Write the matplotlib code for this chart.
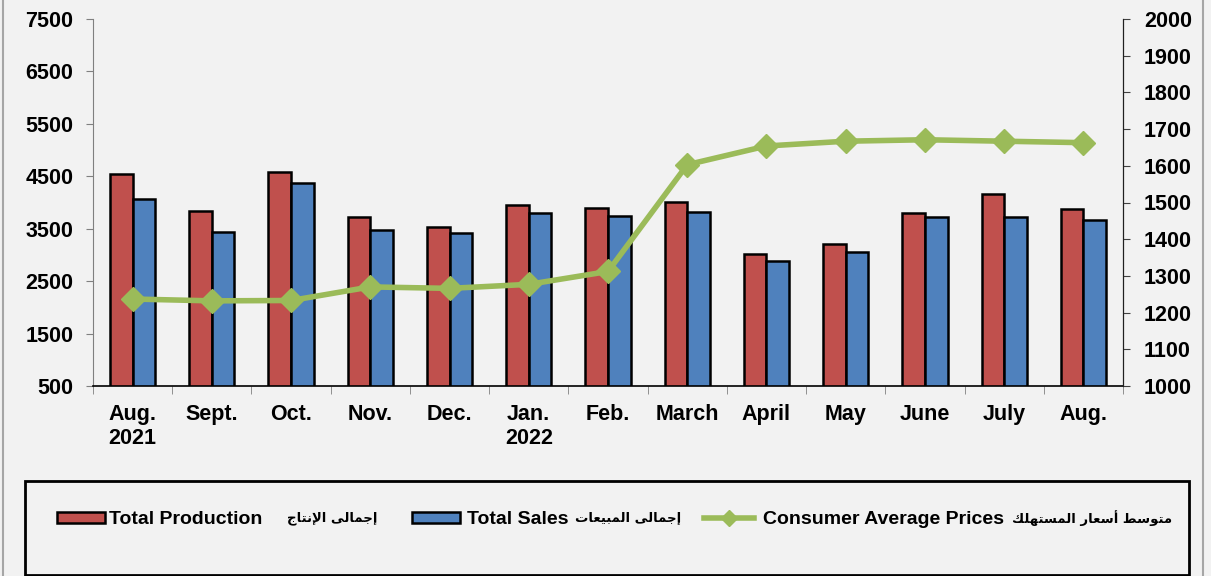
import matplotlib
matplotlib.use("Agg")
import matplotlib.pyplot as plt
from matplotlib.patches import Rectangle
from matplotlib.lines import Line2D
import numpy as np

months = ["Aug.\n2021", "Sept.", "Oct.", "Nov.", "Dec.", "Jan.\n2022", "Feb.",
          "March", "April", "May", "June", "July", "Aug."]
production = [4540, 3840, 4580, 3720, 3540, 3950, 3895, 4005, 3020, 3210, 3800, 4160, 3880]
sales = [4070, 3440, 4370, 3480, 3410, 3795, 3740, 3820, 2885, 3055, 3725, 3720, 3665]
prices = [1237, 1232, 1233, 1270, 1266, 1277, 1312, 1603, 1654, 1667, 1671, 1667, 1663]

# arabic legend text, written in presentation forms (visual order)
ar_prod = "\ufe9d\ufe8e\ufe98\ufee7\ufef9\ufe8d \ufef0\ufedf\ufe8e\ufee4\ufe9f\ufe87"
ar_sales = "\ufe95\ufe8e\ufecc\ufef4\ufe92\ufee4\ufedf\ufe8d \ufef0\ufedf\ufe8e\ufee4\ufe9f\ufe87"
ar_prices = ("\ufeda\ufee0\ufeec\ufe98\ufeb4\ufee4\ufedf\ufe8d \ufead\ufe8e\ufecc\ufeb3\ufe83 "
             "\ufec2\ufeb3\ufeee\ufe98\ufee3")

red = "#C0504D"
blue = "#4F81BD"
green = "#9BBB59"
bg = "#F2F2F2"

plt.rcParams['font.family'] = ['Liberation Sans', 'DejaVu Sans']
plt.rcParams['font.weight'] = 'bold'

W, H = 1211, 576
fig = plt.figure(figsize=(W / 100, H / 100), dpi=100, facecolor=bg)
ax = fig.add_axes([93 / W, 1 - 386 / H, 1030 / W, 367 / H], facecolor=bg)
ax2 = ax.twinx()

x = np.arange(len(months))
w = 0.285
ax.bar(x - w / 2, production, w, color=red, edgecolor="black", linewidth=1.8, zorder=2)
ax.bar(x + w / 2, sales, w, color=blue, edgecolor="black", linewidth=1.8, zorder=2)
ax2.plot(x, prices, color=green, linewidth=4, marker="D", markersize=12, zorder=3)

ax.set_xlim(-0.5, len(months) - 0.5)
ax.set_ylim(500, 7500)
ax.set_yticks(np.arange(500, 7501, 1000))
ax2.set_ylim(1000, 2000)
ax2.set_yticks(np.arange(1000, 2001, 100))

ax.set_xticks(x)
ax.set_xticklabels(months, fontsize=15.5, fontweight="bold", linespacing=1.2)
ax.set_xticks(np.arange(-0.5, len(months), 1), minor=True)
ax.tick_params(axis="x", which="major", length=0, pad=13)
ax.tick_params(axis="x", which="minor", length=6, color="#808080", direction="out")
ax.tick_params(axis="y", length=5, color="#808080", labelsize=15.5, pad=9)
ax2.tick_params(axis="y", length=5, color="#404040", labelsize=15.5, pad=10)
for t in ax.get_yticklabels() + ax2.get_yticklabels():
    t.set_fontweight("bold")

for a in (ax, ax2):
    a.spines["top"].set_visible(False)
ax.spines["left"].set_color("#808080")
ax2.spines["left"].set_visible(False)
ax2.spines["right"].set_color("#202020")
ax.spines["bottom"].set_color("black")
ax.spines["bottom"].set_linewidth(1.2)
ax2.spines["bottom"].set_visible(False)


def fx(px):
    return px / W


def fy(py):
    return 1 - py / H


# legend box and side borders
fig.patches.append(Rectangle((fx(25), 0.001), 1164 / W, 94 / H,
                             transform=fig.transFigure, facecolor="none",
                             edgecolor="black", linewidth=2))
fig.lines.append(Line2D([fx(3), fx(3)], [0, 1], transform=fig.transFigure,
                        color="#A6A6A6", linewidth=1.5))
fig.lines.append(Line2D([fx(1203), fx(1203)], [0, 1], transform=fig.transFigure,
                        color="#A6A6A6", linewidth=1.5))

# legend entries, laid out by hand to keep english and arabic apart
ly = 518
fig.patches.append(Rectangle((fx(57), fy(523)), 48 / W, 11 / H, transform=fig.transFigure,
                             facecolor=red, edgecolor="black", linewidth=1.8))
fig.patches.append(Rectangle((fx(412), fy(523)), 48 / W, 11 / H, transform=fig.transFigure,
                             facecolor=blue, edgecolor="black", linewidth=1.8))
fig.lines.append(Line2D([fx(704), fx(754)], [fy(ly), fy(ly)], transform=fig.transFigure,
                        color=green, linewidth=4))
fig.lines.append(Line2D([fx(729)], [fy(ly)], transform=fig.transFigure, color=green,
                        marker="D", markersize=8))

eng_kw = dict(fontsize=14, fontweight="bold", va="center", ha="left")
ar_kw = dict(fontsize=9.5, fontweight="bold", va="center", ha="center",
             family=["DejaVu Sans"])
fig.text(fx(109), fy(ly + 2), "Total Production", **eng_kw)
fig.text(fx(467), fy(ly + 2), "Total Sales", **eng_kw)
fig.text(fx(763), fy(ly + 2), "Consumer Average Prices", **eng_kw)
fig.text(fx(332), fy(ly), ar_prod, **ar_kw)
fig.text(fx(628), fy(ly), ar_sales, **ar_kw)
fig.text(fx(1092), fy(ly), ar_prices, **ar_kw)

fig.savefig("out.png", dpi=100, facecolor=bg)
